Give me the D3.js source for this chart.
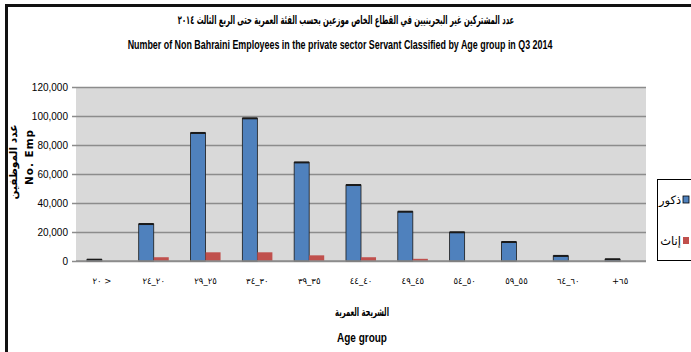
<!DOCTYPE html>
<html><head><meta charset="utf-8">
<script src="https://cdn.jsdelivr.net/npm/d3@7"></script>
<style>body{margin:0;background:#fff}svg{display:block}</style>
</head><body>
<svg id="c" width="691" height="352"></svg>
<script>
const categories = ["٢٠ >","٢٤_٢٠","٢٩_٢٥","٣٤_٣٠","٣٩_٣٥","٤٤_٤٠","٤٩_٤٥","٥٤_٥٠","٥٩_٥٥","٦٤_٦٠","+٦٥"];
const males   = [900, 25500, 88300, 98400, 68000, 52400, 34000, 19800, 13100, 3500, 1200];
const females = [0, 2600, 6000, 6000, 3900, 2600, 1500, 0, 0, 0, 0];
const seriesNames = ["ذكور","إناث"];
const seriesColors = ["#4f81bd","#c0504d"];
const yTicks = [0,20000,40000,60000,80000,100000,120000];
const titleAr = "عدد المشتركين غير البحرينيين في القطاع الخاص موزعين بحسب الفئة العمرية حتى الربع الثالث ٢٠١٤";
const titleEn = "Number of Non Bahraini Employees in the private sector Servant Classified by Age group in Q3 2014";
const xTitleAr = "الشريحة العمرية", xTitleEn = "Age group";
const yTitleAr = "عدد الموظفين", yTitleEn = "No. Emp";

const svg = d3.select("#c");
const L=76, R=646, T=87, B=261;
const narrow = "'Liberation Sans Narrow','Arial Narrow',sans-serif";
const arab = "'DejaVu Sans',sans-serif";

// frame
svg.append("path").attr("d","M6.5,352 V5.5 H691").attr("fill","none").attr("stroke","#111").attr("stroke-width",3);

const x = d3.scaleBand().domain(categories).range([L,R]).paddingInner(0.42).paddingOuter(0.21);
const xs = d3.scaleBand().domain([0,1]).range([0,x.bandwidth()]);
const y = d3.scaleLinear().domain([0,120000]).range([B,T]);

svg.append("rect").attr("x",L).attr("y",T).attr("width",R-L).attr("height",B-T).attr("fill","#d9d9d9");

// gridlines + ticks
const yAxis = d3.axisLeft(y).tickValues(yTicks).tickSize(-(R-L)).tickSizeOuter(0)
  .tickFormat(d3.format(",")).tickPadding(8);
const gy = svg.append("g").attr("transform",`translate(${L},0)`).call(yAxis);
gy.select(".domain").remove();
gy.selectAll(".tick line").attr("stroke","#8c8c8c").attr("stroke-width",1.6).attr("x1",-4);
gy.selectAll(".tick text").attr("font-family",narrow).attr("font-size",10).attr("fill","#000");

// bars
const groups = svg.append("g").selectAll("g").data(categories).join("g")
  .attr("transform",d=>`translate(${x(d)},0)`);
[males,females].forEach((vals,si)=>{
  groups.append("rect")
    .attr("x",xs(si)).attr("width",xs.bandwidth())
    .attr("y",(d,i)=>y(vals[i])).attr("height",(d,i)=>B-y(vals[i]))
    .attr("fill",seriesColors[si])
    .attr("stroke",si===0?"#1a1a1a":"none").attr("stroke-width",0.8)
    .attr("display",(d,i)=>vals[i]>0?null:"none");
  if(si===0){
    groups.append("rect")
      .attr("x",xs(si)).attr("width",xs.bandwidth())
      .attr("y",(d,i)=>y(vals[i])-1).attr("height",2)
      .attr("fill","#1a1a1a");
  }
});

// x axis
const gx = svg.append("g").attr("transform",`translate(0,${B})`)
  .call(d3.axisBottom(x).tickSize(0).tickPadding(17));
gx.select(".domain").attr("stroke","#8c8c8c").attr("stroke-width",1.6).attr("d",`M${L},0H${R}`);
gx.selectAll(".tick text").attr("font-family","DejaVu Sans").attr("font-size",8.5).attr("fill","#000")
  .style("direction","ltr").style("unicode-bidi","bidi-override");

// titles: fixed font size, scaled horizontally to the reference width
function txt(s,xp,yp,opt){
  const t=svg.append("text").attr("x",0).attr("y",0).attr("text-anchor","middle")
    .attr("font-family",opt.ff).attr("font-size",opt.fs).attr("font-weight",opt.fw||"bold")
    .attr("fill","#000").text(s);
  if(opt.ls) t.attr("letter-spacing",opt.ls);
  const w=t.node().getComputedTextLength();
  const sx=opt.w/w;
  t.attr("transform",`translate(${xp},${yp})${opt.rot?" rotate(-90)":""} scale(${sx},1)`);
  return t;
}
txt(titleAr,346,24,{ff:arab,fs:12,w:337});
txt(titleEn,340,49,{ff:narrow,fs:12.5,w:425});
txt(xTitleAr,362,316,{ff:arab,fs:11.5,w:54});
txt(xTitleEn,362,342,{ff:narrow,fs:12.5,w:50});
txt(yTitleAr,17,162,{ff:arab,fs:11,w:75,rot:true});
txt(yTitleEn,33,157,{ff:"DejaVu Sans",fs:10,w:56,ls:1,rot:true});

// legend
svg.append("rect").attr("x",657.5).attr("y",179.5).attr("width",60).attr("height",81)
  .attr("fill","#fff").attr("stroke","#000").attr("stroke-width",1);
const ly=[200,241];
seriesNames.forEach((n,i)=>{
  svg.append("rect").attr("x",683).attr("y",ly[i]-4).attr("width",6).attr("height",7)
    .attr("fill",seriesColors[i]).attr("stroke",i===0?"#000":"none").attr("stroke-width",0.8);
  svg.append("text").attr("x",681).attr("y",ly[i]+4).attr("text-anchor","end")
    .attr("font-family",arab).attr("font-size",11.5).attr("fill","#000").text(n);
});
</script>
</body></html>
